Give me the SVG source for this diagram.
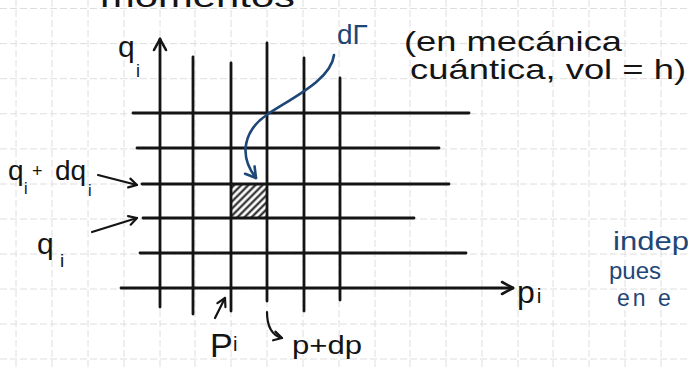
<svg xmlns="http://www.w3.org/2000/svg" width="688" height="368" viewBox="0 0 688 368">
<defs>
<style>
.paper{stroke:#dedede;stroke-width:1;stroke-dasharray:7 3}
.ln{stroke:#141414;stroke-width:2.8;stroke-linecap:round;fill:none}
.thin{stroke:#141414;stroke-width:2.2;stroke-linecap:round;fill:none}
.blue{stroke:#1e4677;stroke-width:2.6;stroke-linecap:round;fill:none}
.tk{font-family:"Liberation Sans","DejaVu Sans",sans-serif;fill:#141414}
.tb{font-family:"Liberation Sans","DejaVu Sans",sans-serif;fill:#1e4677}
</style>
<marker id="ah" markerUnits="userSpaceOnUse" markerWidth="20" markerHeight="20" refX="0" refY="0" viewBox="-14 -10 20 20" orient="auto">
<path d="M-11,-6 L0,0 L-11,6" fill="none" stroke="#141414" stroke-width="2.6" stroke-linecap="round" stroke-linejoin="round"/>
</marker>
<marker id="ahs" markerUnits="userSpaceOnUse" markerWidth="16" markerHeight="16" refX="0" refY="0" viewBox="-10 -8 16 16" orient="auto">
<path d="M-8,-4.5 L0,0 L-8,4.5" fill="none" stroke="#141414" stroke-width="2.2" stroke-linecap="round" stroke-linejoin="round"/>
</marker>
<marker id="ahb" markerUnits="userSpaceOnUse" markerWidth="20" markerHeight="20" refX="0" refY="0" viewBox="-14 -10 20 20" orient="auto">
<path d="M-10,-6 L0,0 L-10,6" fill="none" stroke="#1e4677" stroke-width="2.6" stroke-linecap="round" stroke-linejoin="round"/>
</marker>
<pattern id="hatch" patternUnits="userSpaceOnUse" width="5" height="5" patternTransform="rotate(45)">
<rect width="5" height="5" fill="#ffffff"/>
<line x1="1.5" y1="0" x2="1.5" y2="5" stroke="#141414" stroke-width="2"/>
</pattern>
</defs>
<rect width="688" height="368" fill="#ffffff"/>
<g id="paper-grid">
<path class="paper" d="M16,0V368M52,0V368M88,0V368M124,0V368M160,0V368M195,0V368M231,0V368M267,0V368M303,0V368M339,0V368M375,0V368M410,0V368M446,0V368M482,0V368M518,0V368M553,0V368M589,0V368M625,0V368M661,0V368"/>
<path class="paper" d="M0,8.5H688M0,43.6H688M0,78.7H688M0,113.8H688M0,148.9H688M0,184H688M0,219H688M0,254H688M0,289H688M0,324H688M0,359H688"/>
</g>
<g id="title">
<text class="tk" x="100" y="7" font-size="30" textLength="195" lengthAdjust="spacingAndGlyphs">momentos</text>
</g>
<g id="cell">
<rect x="232" y="185" width="35" height="33" fill="url(#hatch)"/>
</g>
<g id="grid">
<line class="ln" x1="193" y1="57" x2="193" y2="314"/>
<line class="ln" x1="231" y1="63" x2="231" y2="311"/>
<line class="ln" x1="267" y1="43" x2="267" y2="301"/>
<line class="ln" x1="304" y1="58" x2="304" y2="311"/>
<line class="ln" x1="340" y1="78" x2="340" y2="300"/>
<line class="ln" x1="133" y1="113" x2="469" y2="113"/>
<line class="ln" x1="137" y1="148" x2="439" y2="148"/>
<line class="ln" x1="142" y1="184" x2="449" y2="184"/>
<line class="ln" x1="143" y1="218" x2="414" y2="218"/>
<line class="ln" x1="140" y1="253" x2="466" y2="253"/>
</g>
<g id="axes">
<line class="ln" x1="160" y1="307" x2="160" y2="39" marker-end="url(#ah)"/>
<line class="ln" x1="121" y1="288" x2="513" y2="288" marker-end="url(#ah)"/>
</g>
<g id="connectors">
<line class="thin" x1="98" y1="175" x2="137" y2="185" marker-end="url(#ahs)"/>
<line class="thin" x1="92" y1="232" x2="137" y2="218" marker-end="url(#ahs)"/>
<line class="thin" x1="215" y1="318" x2="225" y2="298" marker-end="url(#ahs)"/>
<path class="thin" d="M267,312 Q267,334 282,338" marker-end="url(#ahs)"/>
<path class="blue" d="M334,55 C331,80 292,98 268,114 C244,130 238,155 256,178" marker-end="url(#ahb)"/>
</g>
<g id="label-qi-axis">
<text class="tk" x="118" y="57" font-size="30">q</text>
<text class="tk" x="136" y="77" font-size="18">i</text>
</g>
<g id="label-qi-dqi">
<text class="tk" x="8" y="180" font-size="28">q</text>
<text class="tk" x="24" y="194" font-size="16">i</text>
<text class="tk" x="32" y="177" font-size="18">+</text>
<text class="tk" x="55" y="180" font-size="28">dq</text>
<text class="tk" x="88" y="196" font-size="16">i</text>
</g>
<g id="label-qi">
<text class="tk" x="37" y="254" font-size="30">q</text>
<text class="tk" x="60" y="267" font-size="19">i</text>
</g>
<g id="label-pi-axis">
<text class="tk" x="517" y="303" font-size="32">p<tspan font-size="21" dx="2">i</tspan></text>
</g>
<g id="label-Pi">
<text class="tk" x="210" y="357" font-size="34">P</text>
<text class="tk" x="233" y="351" font-size="20">i</text>
</g>
<g id="label-pdp">
<text class="tk" x="292" y="354" font-size="26" textLength="70" lengthAdjust="spacingAndGlyphs">p+dp</text>
</g>
<g id="label-dGamma">
<text class="tb" x="337" y="44" font-size="28">dΓ</text>
</g>
<g id="note-quantum">
<text class="tk" x="404" y="51" font-size="28" textLength="218" lengthAdjust="spacingAndGlyphs">(en mecánica</text>
<text class="tk" x="410" y="79" font-size="28" textLength="276" lengthAdjust="spacingAndGlyphs">cuántica, vol = h)</text>
</g>
<g id="note-right">
<text class="tb" x="613" y="250" font-size="26" textLength="76" lengthAdjust="spacingAndGlyphs">indep</text>
<text class="tb" x="609" y="279" font-size="24">pues</text>
<text class="tb" x="617" y="306" font-size="23" letter-spacing="3">en e</text>
</g>
</svg>
